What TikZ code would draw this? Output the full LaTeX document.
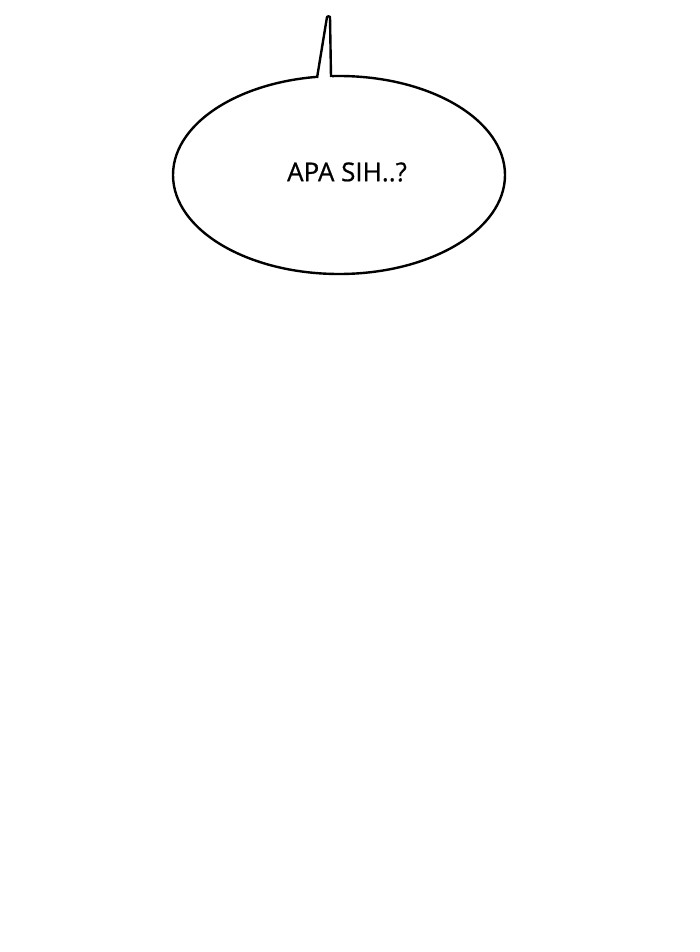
\documentclass[tikz,border=0pt]{standalone}
\usepackage{fontspec}
\setsansfont{Open Sans}[FakeBold=0.7]
\usetikzlibrary{positioning,shapes.geometric}

\tikzset{
    bubble/.style={ellipse,draw,line width=2.4pt,minimum width=332pt,minimum height=198pt,inner sep=0pt},
    speechtext/.style={font=\sffamily\fontsize{26}{28}\selectfont},
    tailline/.style={line width=2.4pt,line join=round}
}

\begin{document}
\begin{tikzpicture}[x=1pt,y=1pt]
    \useasboundingbox (0,0) rectangle (700,-952);
    \node [bubble] (speech) at (339,-175) {};
    \node [speechtext] (words) at (347,-172) {APA SIH..?};

    % tail
    \coordinate (tailL) at (317,-78);
    \coordinate (tipL) at (327,-17);
    \coordinate (tipR) at (330,-17);
    \coordinate (tailR) at (331,-77);
    \fill [white] (316,-82) -- (tipL) -- (tipR) -- (332,-82) -- cycle;
    \draw [tailline] (tailL) -- (tipL) to[bend left=60] (tipR) -- (tailR);
\end{tikzpicture}
\end{document}
